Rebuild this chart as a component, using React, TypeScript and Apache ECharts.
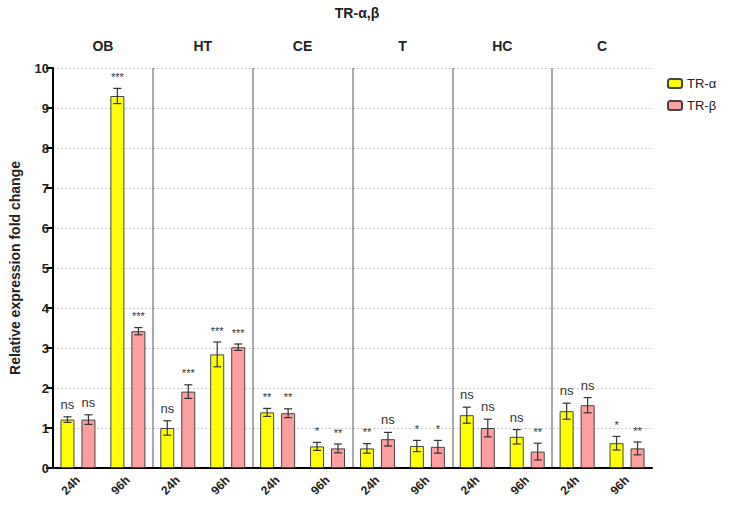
import React, { useEffect, useRef } from "react";
import * as echarts from "echarts";

const categories = ["24h", "96h", "24h", "96h", "24h", "96h", "24h", "96h", "24h", "96h", "24h", "96h"];
const groups = ["OB", "HT", "CE", "T", "HC", "C"];
const alphaValues = [1.21, 9.3, 1.0, 2.84, 1.39, 0.54, 0.49, 0.55, 1.32, 0.78, 1.42, 0.62];
const alphaErrors = [0.07, 0.19, 0.18, 0.31, 0.1, 0.1, 0.12, 0.14, 0.2, 0.18, 0.2, 0.17];
const betaValues = [1.21, 3.42, 1.91, 3.02, 1.37, 0.49, 0.72, 0.53, 1.0, 0.41, 1.57, 0.49];
const betaErrors = [0.12, 0.09, 0.17, 0.08, 0.11, 0.11, 0.17, 0.16, 0.22, 0.21, 0.19, 0.16];
const alphaSig = ["ns", "***", "ns", "***", "**", "*", "**", "*", "ns", "ns", "ns", "*"];
const betaSig = ["ns", "***", "***", "***", "**", "**", "ns", "*", "ns", "**", "ns", "**"];
const yTicks = { min: 0, max: 10, interval: 1 };

const FONT = "Liberation Sans, Arial, sans-serif";
const BAR_W = 14;
const BAR_OFFSET = (BAR_W * 1.5) / 2;

function errorSeries(name: string, values: number[], errors: number[], sig: string[], sign: number) {
  return {
    name,
    type: "custom",
    xAxisIndex: 0,
    yAxisIndex: 0,
    z: 10,
    clip: false,
    silent: true,
    data: values.map((v, i) => [i, v, errors[i]]),
    encode: { x: 0, y: 1 },
    renderItem: (params: any, api: any) => {
      const idx = api.value(0);
      const v = api.value(1);
      const e = api.value(2);
      const c = api.coord([idx, v]);
      const hi = api.coord([idx, v + e]);
      const lo = api.coord([idx, v - e]);
      const x = c[0] + sign * BAR_OFFSET;
      const cap = 4;
      const style = { stroke: "#333", lineWidth: 1.2 };
      const label = sig[params.dataIndex];
      const isNs = label === "ns";
      return {
        type: "group",
        children: [
          { type: "line", shape: { x1: x, y1: hi[1], x2: x, y2: lo[1] }, style },
          { type: "line", shape: { x1: x - cap, y1: hi[1], x2: x + cap, y2: hi[1] }, style },
          { type: "line", shape: { x1: x - cap, y1: lo[1], x2: x + cap, y2: lo[1] }, style },
          {
            type: "text",
            style: {
              text: label,
              x,
              y: hi[1] - 6,
              align: "center",
              verticalAlign: "bottom",
              fontFamily: FONT,
              fontSize: isNs ? 13 : 11,
              fill: "#333",
            },
          },
        ],
      };
    },
  };
}

export default function App() {
  const ref = useRef<HTMLDivElement>(null);
  useEffect(() => {
    if (!ref.current) return;
    const chart = echarts.init(ref.current, undefined, { renderer: "svg" });
    chart.setOption({
      animation: false,
      backgroundColor: "#fff",
      textStyle: { fontFamily: FONT },
      graphic: [
        {
          type: "text",
          x: 357,
          y: 13,
          style: {
            text: "TR-α,β",
            align: "center",
            verticalAlign: "middle",
            fontFamily: FONT,
            fontWeight: "bold",
            fontSize: 14,
            fill: "#222",
          },
        },
      ],
      legend: {
        data: ["TR-α", "TR-β"],
        orient: "vertical",
        left: 662,
        top: 72,
        itemWidth: 14,
        itemHeight: 9,
        itemGap: 9,
        textStyle: { fontFamily: FONT, fontSize: 13, color: "#222" },
      },
      grid: { left: 52, right: 97, top: 68, bottom: 38, containLabel: false },
      xAxis: [
        {
          type: "category",
          data: categories,
          position: "bottom",
          axisLine: { lineStyle: { color: "#000", width: 2 } },
          axisTick: { alignWithLabel: true, length: 6, lineStyle: { color: "#000", width: 2 } },
          axisLabel: {
            rotate: 45,
            margin: 10,
            fontFamily: FONT,
            fontWeight: "bold",
            fontSize: 12,
            color: "#222",
          },
          splitLine: { show: false },
        },
        {
          type: "category",
          data: groups,
          position: "top",
          axisLine: { show: false },
          axisTick: { show: false },
          axisLabel: { margin: 15, fontFamily: FONT, fontWeight: "bold", fontSize: 14, color: "#222" },
          splitLine: {
            show: true,
            showMinLine: false,
            showMaxLine: false,
            lineStyle: { color: "#8c8c8c", width: 1.5 },
          },
        },
      ],
      yAxis: {
        type: "value",
        min: yTicks.min,
        max: yTicks.max,
        interval: yTicks.interval,
        name: "Relative expression fold change",
        nameLocation: "middle",
        nameGap: 31,
        nameTextStyle: { fontFamily: FONT, fontWeight: "bold", fontSize: 14, color: "#222" },
        axisLine: { show: true, lineStyle: { color: "#000", width: 2 } },
        axisTick: { show: true, length: 7, lineStyle: { color: "#000", width: 2 } },
        axisLabel: { margin: 4, fontFamily: FONT, fontWeight: "bold", fontSize: 13, color: "#222" },
        splitLine: { show: true, lineStyle: { color: "#c8c8c8", type: [2, 2], width: 1 } },
      },
      series: [
        {
          name: "TR-α",
          type: "bar",
          data: alphaValues,
          barWidth: BAR_W,
          barGap: "50%",
          itemStyle: { color: "#ffff00", borderColor: "#444", borderWidth: 1 },
        },
        {
          name: "TR-β",
          type: "bar",
          data: betaValues,
          barWidth: BAR_W,
          barGap: "50%",
          itemStyle: { color: "#ff9e9e", borderColor: "#444", borderWidth: 1 },
        },
        errorSeries("errA", alphaValues, alphaErrors, alphaSig, -1),
        errorSeries("errB", betaValues, betaErrors, betaSig, 1),
      ],
    });
    return () => chart.dispose();
  }, []);
  return <div ref={ref} style={{ position: "fixed", left: 0, top: 0, width: 749, height: 506 }} />;
}
